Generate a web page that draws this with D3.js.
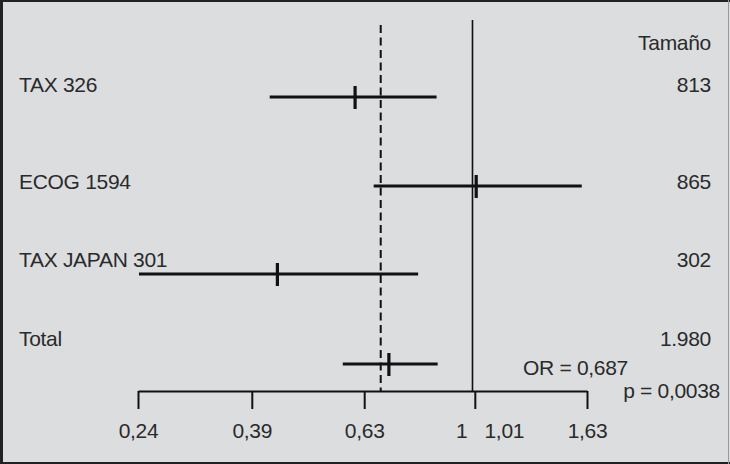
<!DOCTYPE html>
<html><head><meta charset="utf-8">
<script src="https://cdn.jsdelivr.net/npm/d3@7"></script>
<style>
html,body{margin:0;padding:0;background:#dcdddf;}
svg{display:block;}
text{font-family:"Liberation Sans",Arial,sans-serif;font-size:21px;fill:#2a2a2a;letter-spacing:-0.3px;}
</style></head>
<body>
<svg id="chart" width="730" height="464"></svg>
<script>
// ---- data ----
const studies   = ["TAX 326", "ECOG 1594", "TAX JAPAN 301", "Total"];
const sizes     = ["813", "865", "302", "1.980"];
const orValues  = [0.606, 1.016, 0.435, 0.700];
const ciLower   = [0.421, 0.656, 0.241, 0.575];
const ciUpper   = [0.858, 1.594, 0.793, 0.862];
const tickValues = [0.24, 0.39, 0.63, 1.01, 1.63];
const tickLabels = ["0,24", "0,39", "0,63", "1,01", "1,63"];
const nullValue = 1;
const pooledValue = 0.676;
const sizeHeader = "Tamaño";
const orText = "OR = 0,687";
const pText = "p = 0,0038";

const svg = d3.select("#chart");
const W = 730, H = 464;

// frame
svg.append("rect").attr("x",0).attr("y",0).attr("width",W).attr("height",H).attr("fill","#dcdddf");
svg.append("line").attr("x1",0).attr("x2",W).attr("y1",1).attr("y2",1).attr("stroke","#222").attr("stroke-width",2);
svg.append("line").attr("x1",1.5).attr("x2",1.5).attr("y1",0).attr("y2",H).attr("stroke","#222").attr("stroke-width",3);
svg.append("line").attr("x1",0).attr("x2",W).attr("y1",463).attr("y2",463).attr("stroke","#222").attr("stroke-width",2);
svg.append("line").attr("x1",728.5).attr("x2",728.5).attr("y1",0).attr("y2",H).attr("stroke","#9a9a9a").attr("stroke-width",1);

const x = d3.scaleLog().domain([0.24, 1.63]).range([138, 587]);
// row positions (irregular in original)
const y = d3.scaleOrdinal().domain(studies).range([97, 186, 274, 364]);
const labelY = d3.scaleOrdinal().domain(studies).range([92, 189, 267, 346]);
const axisY = 391;

// reference lines
svg.append("line")
  .attr("x1", x(nullValue)).attr("x2", x(nullValue))
  .attr("y1", 20).attr("y2", axisY)
  .attr("stroke","#111").attr("stroke-width",1.6);
svg.append("line")
  .attr("x1", x(pooledValue)).attr("x2", x(pooledValue))
  .attr("y1", 25).attr("y2", axisY)
  .attr("stroke","#111").attr("stroke-width",2)
  .attr("stroke-dasharray","8,4.5");

// axis
const axis = d3.axisBottom(x).tickValues(tickValues)
  .tickFormat((d,i)=>tickLabels[i]).tickSize(18).tickSizeOuter(0);
const gAxis = svg.append("g").attr("transform",`translate(0,${axisY})`).call(axis);
gAxis.select(".domain").attr("stroke","#111").attr("stroke-width",2);
gAxis.selectAll(".tick line").attr("stroke","#111").attr("stroke-width",2);
gAxis.selectAll(".tick text")
  .attr("font-family","Liberation Sans, Arial, sans-serif")
  .attr("font-size",21).attr("fill","#2a2a2a")
  .attr("y",47).attr("dy",0)
  .attr("dx",(d,i)=> tickLabels[i]==="1,01" ? 29 : 0);
// label for the null line
svg.append("text").attr("x", x(nullValue)-5).attr("y", 438)
  .attr("text-anchor","end").text("1");

// CI lines
const rows = svg.append("g").selectAll("g").data(studies).join("g");
rows.append("line")
  .attr("x1",(d,i)=>x(ciLower[i])).attr("x2",(d,i)=>x(ciUpper[i]))
  .attr("y1",d=>y(d)).attr("y2",d=>y(d))
  .attr("stroke","#111").attr("stroke-width",3.2);
rows.append("line")
  .attr("x1",(d,i)=>x(orValues[i])).attr("x2",(d,i)=>x(orValues[i]))
  .attr("y1",d=>y(d)-11).attr("y2",d=>y(d)+12)
  .attr("stroke","#111").attr("stroke-width",3.2);

// study labels
rows.append("text").attr("x",19).attr("y",d=>labelY(d)).text(d=>d);
rows.append("text").attr("x",711).attr("y",d=>labelY(d))
  .attr("text-anchor","end").text((d,i)=>sizes[i]);

svg.append("text").attr("x",711).attr("y",50).attr("text-anchor","end").text(sizeHeader);
svg.append("text").attr("x",628).attr("y",375).attr("text-anchor","end").text(orText);
svg.append("text").attr("x",720).attr("y",398).attr("text-anchor","end").text(pText);
</script>
</body></html>
